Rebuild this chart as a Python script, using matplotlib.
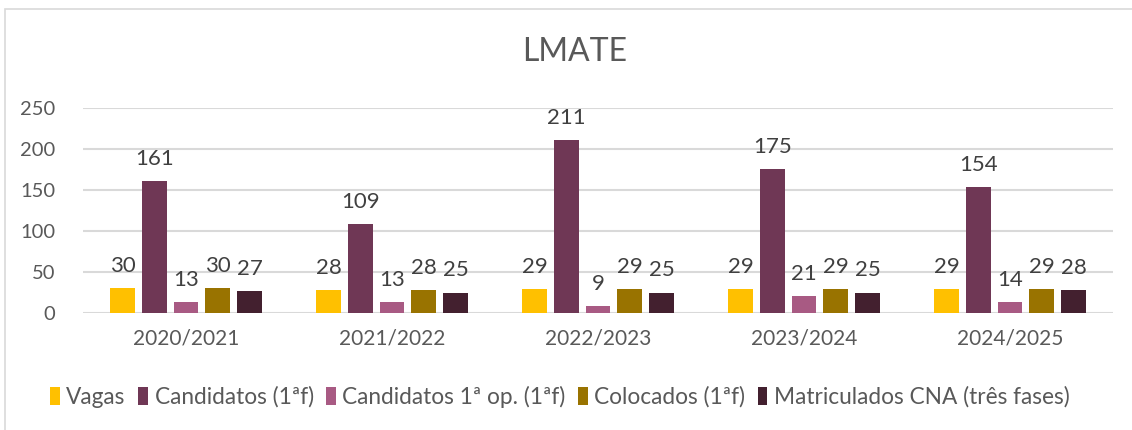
import matplotlib

matplotlib.use("Agg")
import matplotlib.pyplot as plt
import numpy as np
from matplotlib.patches import Rectangle

YEARS = ["2020/2021", "2021/2022", "2022/2023", "2023/2024", "2024/2025"]
SERIES = [
    "Vagas",
    "Candidatos (1ªf)",
    "Candidatos 1ª op. (1ªf)",
    "Colocados (1ªf)",
    "Matriculados CNA (três fases)",
]
VAGAS = [30, 28, 29, 29, 29]
CANDIDATOS = [161, 109, 211, 175, 154]
CAND_1OP = [13, 13, 9, 21, 14]
COLOCADOS = [30, 28, 29, 29, 29]
MATRICULADOS = [27, 25, 25, 25, 28]
COLORS = ["#FFC000", "#6F3755", "#A85A83", "#997300", "#43202F"]

TEXT = "#595959"
GRID = "#D9D9D9"
FONT = ["Lato", "DejaVu Sans"]

plt.rcParams["font.family"] = FONT

fig = plt.figure(figsize=(11.32, 4.30), dpi=100)
# outer chart border (cut off at right and bottom like the reference)
fig.patches.append(Rectangle((5 / 1132, -0.1), 1.2, 1 - 9 / 430 + 0.1,
                             transform=fig.transFigure, fill=False,
                             ec=GRID, lw=1.2))

ax = fig.add_axes([83 / 1132, 1 - 313 / 430, (1113 - 83) / 1132, 205 / 430])

values = [VAGAS, CANDIDATOS, CAND_1OP, COLOCADOS, MATRICULADOS]
x = np.arange(len(YEARS))
width = 0.121
step = 0.154
for i, (vals, color, name) in enumerate(zip(values, COLORS, SERIES)):
    bars = ax.bar(x + (i - 2) * step, vals, width, color=color, label=name, zorder=3)
    for b, v in zip(bars, vals):
        ax.annotate(str(v), (b.get_x() + b.get_width() / 2, v),
                    xytext=(0, 12), textcoords="offset pixels",
                    ha="center", va="bottom", fontsize=16, color="#404040")

ax.set_xlim(-0.5, len(YEARS) - 0.5)
ax.set_ylim(0, 250)
ax.set_yticks(range(0, 251, 50))
ax.set_xticks(x)
ax.set_xticklabels(YEARS)
ax.grid(axis="y", color=GRID, lw=1.5, zorder=0)
for s in ax.spines.values():
    s.set_visible(False)
ax.tick_params(length=0, labelsize=15, labelcolor=TEXT)
ax.tick_params(axis="y", labelsize=14.5, pad=20)
ax.tick_params(axis="x", pad=11)

fig.text(575 / 1132, 1 - 52 / 430, "LMATE", ha="center", va="center",
         fontsize=23, color=TEXT)

leg = fig.legend(loc="center", bbox_to_anchor=(560 / 1132, 1 - 397 / 430), ncol=5,
                 frameon=False, fontsize=16.3, handlelength=0.42, handleheight=0.85,
                 handletextpad=0.3, columnspacing=0.55, labelcolor=TEXT)

fig.savefig("out.png", dpi=100)
